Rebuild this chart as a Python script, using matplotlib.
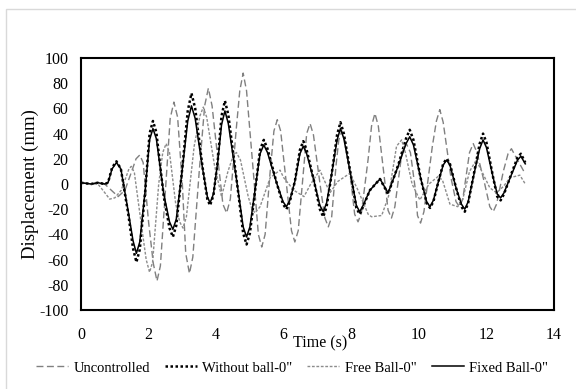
import matplotlib
matplotlib.use("Agg")
import matplotlib.pyplot as plt
from matplotlib.patches import Rectangle

plt.rcParams['font.family'] = ['Liberation Serif', 'DejaVu Serif']
plt.rcParams['axes.unicode_minus'] = False

# (time s, displacement mm)
uncontrolled = [(0, 1), (0.3, 0), (0.5, 1), (0.7, 0), (0.9, -5), (1.1, -10), (1.3, -5), (1.5, 10),
                (1.63, 20), (1.74, 23), (1.84, 17), (2.0, -30), (2.14, -63), (2.25, -77), (2.35, -65),
                (2.5, -5), (2.64, 52), (2.75, 65), (2.86, 53), (3.0, 0), (3.1, -55), (3.21, -71),
                (3.31, -58), (3.5, 10), (3.66, 62), (3.77, 76), (3.88, 62), (4.05, 20), (4.2, -16),
                (4.31, -23), (4.42, -12), (4.6, 45), (4.7, 74), (4.8, 88), (4.9, 74), (5.1, 10),
                (5.25, -40), (5.35, -50), (5.45, -40), (5.6, 10), (5.71, 42), (5.81, 51), (5.91, 42),
                (6.1, -5), (6.23, -37), (6.33, -46), (6.43, -37), (6.6, 15), (6.68, 40), (6.78, 48),
                (6.88, 39), (7.1, -5), (7.22, -27), (7.32, -34), (7.42, -26), (7.55, 15), (7.63, 35),
                (7.72, 42), (7.82, 34), (8.0, 0), (8.1, -24), (8.2, -30), (8.3, -23), (8.5, 20),
                (8.6, 46), (8.7, 56), (8.8, 46), (9.0, 0), (9.09, -21), (9.19, -27), (9.29, -18),
                (9.5, 25), (9.63, 32), (9.75, 25), (9.9, -5), (9.96, -25), (10.05, -31), (10.15, -22),
                (10.4, 30), (10.52, 50), (10.62, 59), (10.72, 49), (10.95, 5), (11.1, -14), (11.2, -18),
                (11.3, -12), (11.5, 25), (11.61, 32), (11.72, 25), (11.95, 0), (12.1, -18), (12.2, -22),
                (12.3, -16), (12.5, 10), (12.64, 24), (12.74, 28), (12.86, 22), (13.15, 8)]

without_ball = [(0, 1), (0.3, 0), (0.5, 1), (0.7, 0), (0.8, 1), (0.92, 13), (1.05, 18), (1.18, 12),
                (1.4, -24), (1.54, -51), (1.64, -62), (1.74, -52), (1.9, -6), (2.03, 40), (2.13, 50),
                (2.23, 41), (2.45, -10), (2.62, -35), (2.72, -42), (2.82, -33), (3.0, 13), (3.16, 58),
                (3.27, 72), (3.38, 60), (3.6, 13), (3.74, -12), (3.82, -17), (3.92, -9), (4.05, 19),
                (4.16, 54), (4.26, 66), (4.36, 55), (4.65, -6), (4.8, -39), (4.9, -48), (5.0, -39),
                (5.15, -6), (5.3, 27), (5.41, 35), (5.52, 28), (5.8, 0), (5.98, -16), (6.08, -20),
                (6.18, -14), (6.33, 2), (6.48, 27), (6.58, 34), (6.68, 27), (6.9, 2), (7.07, -20),
                (7.17, -26), (7.27, -18), (7.42, 8), (7.58, 39), (7.68, 49), (7.78, 40), (8.0, 5),
                (8.15, -19), (8.25, -24), (8.35, -18), (8.55, -5), (8.85, 4), (9.09, -8), (9.4, 16),
                (9.62, 36), (9.73, 43), (9.84, 35), (10.05, 5), (10.23, -15), (10.33, -19), (10.43, -14),
                (10.58, 2), (10.72, 16), (10.82, 20), (10.92, 16), (11.1, -3), (11.26, -18), (11.36, -22),
                (11.46, -15), (11.65, 11), (11.8, 32), (11.9, 40), (12.0, 33), (12.2, 5), (12.32, -10),
                (12.42, -13), (12.52, -8), (12.75, 9), (12.92, 21), (13.02, 24), (13.15, 17)]

free_ball = [(0, 1), (0.3, 0), (0.5, 0), (0.65, -5), (0.85, -12), (1.0, -11), (1.19, -5), (1.3, 3),
             (1.42, 12), (1.49, 14), (1.58, 9), (1.8, -35), (1.93, -60), (2.03, -70), (2.12, -62),
             (2.3, 0), (2.42, 25), (2.52, 32), (2.62, 25), (2.8, -15), (2.92, -30), (3.02, -35),
             (3.12, -26), (3.35, 30), (3.52, 54), (3.62, 61), (3.72, 53), (3.95, 15), (4.16, -10),
             (4.35, 10), (4.5, 22), (4.6, 25), (4.72, 19), (4.95, -10), (5.05, -19), (5.15, -23),
             (5.3, -18), (5.6, 5), (5.89, 11), (6.0, 5), (6.3, -5), (6.6, -10), (6.8, 0), (7.07, 11),
             (7.2, 3), (7.37, -7), (7.6, 2), (7.96, 8.5), (8.2, -5), (8.5, -24), (8.6, -26), (8.9, -25),
             (9.1, -10), (9.34, 30), (9.49, 35), (9.6, 25), (9.8, 0), (10.03, -12.7), (10.3, 0),
             (10.57, 6), (10.7, 3), (10.92, -16), (11.15, -18), (11.3, -12), (11.5, 10), (11.7, 19),
             (11.9, 8), (12.1, -3), (12.3, -7), (12.5, -2), (12.7, 5), (12.99, 7), (13.15, 0)]

fixed_ball = [(0, 1), (0.3, 0), (0.5, 1), (0.7, 0), (0.8, 1), (0.92, 12), (1.05, 17), (1.18, 12),
              (1.4, -22), (1.54, -45), (1.64, -55), (1.74, -46), (1.9, -5), (2.03, 35), (2.13, 44),
              (2.23, 36), (2.45, -8), (2.62, -30), (2.72, -36), (2.82, -28), (3.0, 12), (3.16, 50),
              (3.27, 62), (3.38, 52), (3.6, 12), (3.74, -10), (3.82, -15), (3.92, -8), (4.05, 18),
              (4.16, 47), (4.26, 58), (4.36, 48), (4.65, -5), (4.8, -34), (4.9, -42), (5.0, -34),
              (5.15, -5), (5.3, 24), (5.41, 31), (5.52, 25), (5.8, 0), (5.98, -14), (6.08, -18),
              (6.18, -13), (6.33, 2), (6.48, 24), (6.58, 30), (6.68, 24), (6.9, 2), (7.07, -17),
              (7.17, -22), (7.27, -15), (7.42, 8), (7.58, 35), (7.68, 44), (7.78, 36), (8.0, 5),
              (8.15, -17), (8.25, -22), (8.35, -17), (8.55, -5), (8.85, 4), (9.09, -7), (9.4, 15),
              (9.62, 32), (9.73, 37.5), (9.84, 31), (10.05, 5), (10.23, -14), (10.33, -18), (10.43, -13),
              (10.58, 2), (10.72, 15), (10.82, 19), (10.92, 15), (11.1, -3), (11.26, -16), (11.36, -20),
              (11.46, -14), (11.65, 10), (11.8, 28), (11.9, 35), (12.0, 29), (12.2, 5), (12.32, -8),
              (12.42, -11), (12.52, -7), (12.75, 8), (12.92, 19), (13.02, 22), (13.15, 16)]

fig = plt.figure(figsize=(5.76, 3.89), dpi=100)
ax = fig.add_axes([0.1406, 0.203, 0.8212, 0.648])

t, y = zip(*uncontrolled)
ax.plot(t, y, color='#808080', lw=1.0, dashes=(5, 2.5), label='Uncontrolled')
t, y = zip(*without_ball)
ax.plot(t, y, color='black', lw=1.8, dashes=(1, 1), dash_capstyle='butt', label='Without ball-0"')
t, y = zip(*free_ball)
ax.plot(t, y, color='#8c8c8c', lw=1.0, dashes=(2, 1.2), label='Free Ball-0"')
t, y = zip(*fixed_ball)
ax.plot(t, y, color='black', lw=1.1, label='Fixed Ball-0"')

ax.set_xlim(0, 14)
ax.set_ylim(-100, 100)
ax.set_xticks(range(0, 15, 2))
ax.set_yticks(range(-100, 101, 20))
ax.tick_params(length=0, labelsize=11.5)
ax.tick_params(axis='y', pad=9)
ax.tick_params(axis='x', pad=12)
for s in ax.spines.values():
    s.set_linewidth(1.5)

ax.set_ylabel('Displacement (mm)', fontsize=13.5)
ax.yaxis.set_label_coords(-0.088, 0.5)
ax.set_xlabel('Time (s)', fontsize=11.5)
ax.xaxis.set_label_coords(0.505, -0.10)

fig.legend(loc='center', bbox_to_anchor=(0.507, 0.054), ncol=4, frameon=False,
           fontsize=10.5, handlelength=2.2, handletextpad=0.4, columnspacing=1.0)

fig.patches.append(Rectangle((6 / 576, -0.1), 1.2, 1 - 9 / 389 + 0.1, transform=fig.transFigure,
                             fill=False, edgecolor='#d9d9d9', lw=1.0))

fig.savefig('out.png', dpi=100)
